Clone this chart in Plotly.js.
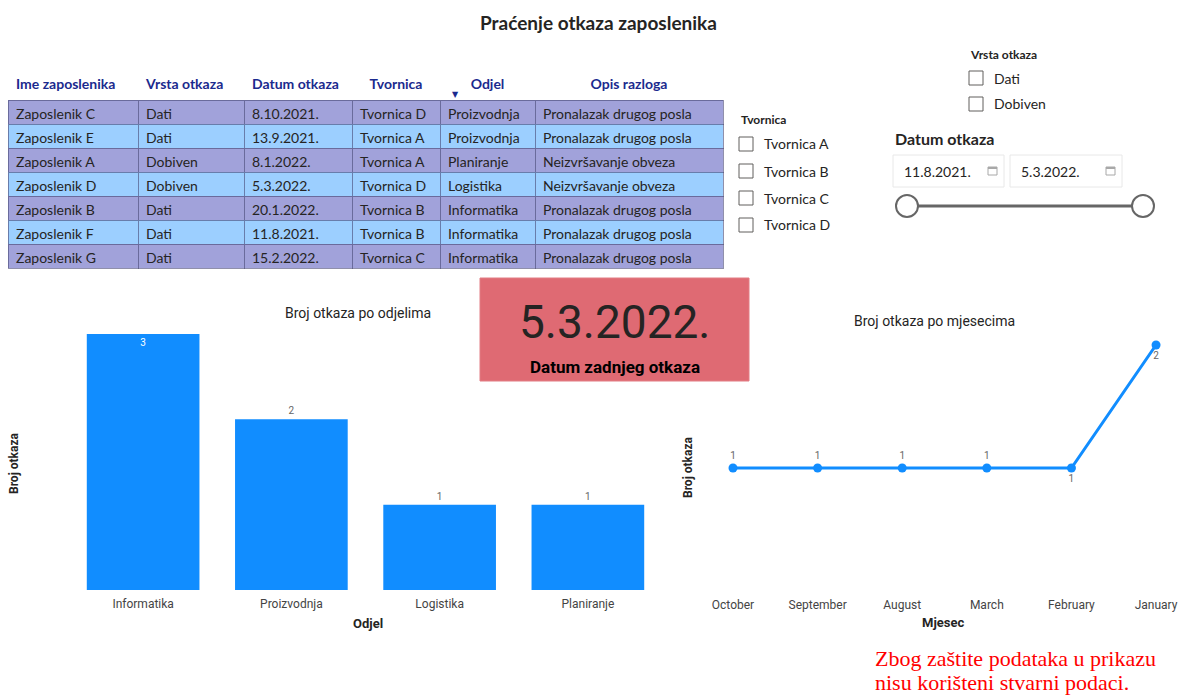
<!DOCTYPE html>
<html>
<head>
<meta charset="utf-8">
<script src="https://cdn.plot.ly/plotly-3.0.1.min.js"></script>
<style>
  html, body { margin: 0; padding: 0; background: #ffffff; }
  #chart { width: 1178px; height: 697px; }
</style>
</head>
<body>
<div id="chart"></div>
<script>
// ---------------- DATA ----------------
const pageTitle = 'Praćenje otkaza zaposlenika';
const tableHeaders = ['Ime zaposlenika', 'Vrsta otkaza', 'Datum otkaza', 'Tvornica', 'Odjel', 'Opis razloga'];
const employees = ['Zaposlenik C', 'Zaposlenik E', 'Zaposlenik A', 'Zaposlenik D', 'Zaposlenik B', 'Zaposlenik F', 'Zaposlenik G'];
const dismissalTypes = ['Dati', 'Dati', 'Dobiven', 'Dobiven', 'Dati', 'Dati', 'Dati'];
const dismissalDates = ['8.10.2021.', '13.9.2021.', '8.1.2022.', '5.3.2022.', '20.1.2022.', '11.8.2021.', '15.2.2022.'];
const factories = ['Tvornica D', 'Tvornica A', 'Tvornica A', 'Tvornica D', 'Tvornica B', 'Tvornica B', 'Tvornica C'];
const departments = ['Proizvodnja', 'Proizvodnja', 'Planiranje', 'Logistika', 'Informatika', 'Informatika', 'Informatika'];
const reasons = ['Pronalazak drugog posla', 'Pronalazak drugog posla', 'Neizvršavanje obveza', 'Neizvršavanje obveza',
                 'Pronalazak drugog posla', 'Pronalazak drugog posla', 'Pronalazak drugog posla'];

const deptNames = ['Informatika', 'Proizvodnja', 'Logistika', 'Planiranje'];
const deptCounts = [3, 2, 1, 1];

const monthNames = ['October', 'September', 'August', 'March', 'February', 'January'];
const monthCounts = [1, 1, 1, 1, 1, 2];

const lastDismissalDate = '5.3.2022.';
const lastDismissalLabel = 'Datum zadnjeg otkaza';

const typeOptions = ['Dati', 'Dobiven'];
const factoryOptions = ['Tvornica A', 'Tvornica B', 'Tvornica C', 'Tvornica D'];
const dateRange = ['11.8.2021.', '5.3.2022.'];

const footnote = ['Zbog zaštite podataka u prikazu', 'nisu korišteni stvarni podaci.'];

// ---------------- HELPERS ----------------
const W = 1178, H = 697;
const px = v => v / W;
const py = v => 1 - v / H;
const BLUE = '#118DFF';
const TXT = '#252423';

// ---------------- TRACES ----------------
const rowColors = employees.map((_, i) => i % 2 === 0 ? '#A1A2DA' : '#9CCFFF');
const tableTrace = {
  type: 'table',
  domain: { x: [px(8), px(723)], y: [py(270), py(70)] },
  columnwidth: [130, 106, 108, 88, 95, 188],
  header: {
    values: tableHeaders,
    align: ['left', 'left', 'left', 'center', 'center', 'center'],
    height: 30,
    fill: { color: '#ffffff' },
    line: { color: '#ffffff', width: 0 },
    font: { family: 'Lato, Noto Sans, sans-serif', size: 14, color: '#1B2A8E', weight: 'bold' }
  },
  cells: {
    values: [employees, dismissalTypes, dismissalDates, factories, departments, reasons],
    align: 'left',
    height: 24,
    fill: { color: tableHeaders.map(() => rowColors) },
    line: { color: 'rgba(70,70,115,0.6)', width: 1 },
    font: { family: 'Lato, Noto Sans, sans-serif', size: 14, color: TXT }
  }
};

const barTrace = {
  type: 'bar',
  x: deptNames,
  y: deptCounts,
  xaxis: 'x',
  yaxis: 'y',
  marker: { color: BLUE },
  text: deptCounts.map(String),
  textposition: deptCounts.map((v, i) => i === 0 ? 'inside' : 'outside'),
  insidetextanchor: 'end',
  insidetextfont: { color: '#ffffff', size: 10, family: 'Roboto' },
  outsidetextfont: { color: '#666666', size: 10, family: 'Roboto' },
  cliponaxis: false,
  hoverinfo: 'x+y'
};

const lineTrace = {
  type: 'scatter',
  mode: 'lines+markers+text',
  x: monthNames,
  y: monthCounts,
  xaxis: 'x2',
  yaxis: 'y2',
  line: { color: BLUE, width: 3 },
  marker: { color: BLUE, size: 9 },
  text: monthCounts.map(String),
  textposition: monthCounts.map((v, i) => i < 4 ? 'top center' : 'bottom center'),
  textfont: { color: '#666666', size: 10, family: 'Roboto' },
  cliponaxis: false,
  hoverinfo: 'x+y'
};

// ---------------- SHAPES & ANNOTATIONS ----------------
const shapes = [];
const annotations = [];

function rectPx(x0, y0, x1, y1, fill, lineColor, lineWidth) {
  shapes.push({ type: 'rect', xref: 'paper', yref: 'paper',
    x0: px(x0), x1: px(x1), y0: py(y1), y1: py(y0),
    fillcolor: fill, line: { color: lineColor, width: lineWidth } });
}
function textPx(x, y, text, font, xanchor, extra) {
  annotations.push(Object.assign({ xref: 'paper', yref: 'paper', x: px(x), y: py(y), text: text,
    showarrow: false, font: font, xanchor: xanchor || 'center', yanchor: 'middle' }, extra || {}));
}

// Page title
textPx(598, 22, '<b>' + pageTitle + '</b>', { family: 'Lato, sans-serif', size: 19, color: TXT });

// Sort indicator in table header
textPx(455, 94, '▼', { family: 'DejaVu Sans', size: 8, color: '#1B2A8E' });

// Slicer: Vrsta otkaza
textPx(968, 55, '<b>Vrsta otkaza</b>', { family: 'Lato, sans-serif', size: 12, color: TXT }, 'left');
typeOptions.forEach((t, i) => {
  const cy = 78 + i * 26;
  rectPx(969, cy - 7, 983, cy + 7, '#ffffff', '#605E5C', 1);
  textPx(992, cy, t, { family: 'Lato, sans-serif', size: 14, color: TXT }, 'left');
});

// Slicer: Tvornica
textPx(739, 120, '<b>Tvornica</b>', { family: 'Lato, sans-serif', size: 12, color: TXT }, 'left');
factoryOptions.forEach((t, i) => {
  const cy = 144 + i * 27;
  rectPx(739, cy - 7, 753, cy + 7, '#ffffff', '#605E5C', 1);
  textPx(762, cy, t, { family: 'Lato, sans-serif', size: 14, color: TXT }, 'left');
});

// Slicer: Datum otkaza
textPx(893, 138, '<b>Datum otkaza</b>', { family: 'Lato, sans-serif', size: 16, color: TXT }, 'left');
const boxX = [[893, 1004], [1010, 1122]];
dateRange.forEach((d, i) => {
  const [bx0, bx1] = boxX[i];
  rectPx(bx0, 155, bx1, 187, '#ffffff', '#E8E8E8', 1);
  textPx(bx0 + 9, 171, d, { family: 'Lato, sans-serif', size: 14, color: TXT }, 'left');
  // calendar icon
  rectPx(bx1 - 16, 167, bx1 - 7, 175, '#ffffff', '#A8A8A8', 1);
  rectPx(bx1 - 16, 167, bx1 - 7, 169, '#A8A8A8', '#A8A8A8', 0);
});
shapes.push({ type: 'line', xref: 'paper', yref: 'paper', x0: px(907), x1: px(1143), y0: py(206), y1: py(206),
  line: { color: '#666666', width: 3 } });
[907, 1143].forEach(cx => {
  shapes.push({ type: 'circle', xref: 'paper', yref: 'paper', x0: px(cx - 11), x1: px(cx + 11), y0: py(217), y1: py(195),
    fillcolor: '#ffffff', line: { color: '#666666', width: 2 } });
});

// KPI card
rectPx(480, 278, 749, 381, '#DF6A73', '#E27C84', 1);
textPx(615, 322, lastDismissalDate, { family: 'Roboto, sans-serif', size: 46, color: TXT });
textPx(615, 367, '<b>' + lastDismissalLabel + '</b>', { family: 'Roboto, sans-serif', size: 17, color: '#000000' });

// Bar chart title and axis titles
textPx(358, 313, 'Broj otkaza po odjelima', { family: 'Roboto, sans-serif', size: 14, color: TXT });
textPx(368, 623, '<b>Odjel</b>', { family: 'Roboto, sans-serif', size: 13, color: TXT });
textPx(14, 463, '<b>Broj otkaza</b>', { family: 'Roboto, sans-serif', size: 12, color: TXT }, 'center', { textangle: -90 });

// Line chart title and axis titles
textPx(934, 321, 'Broj otkaza po mjesecima', { family: 'Roboto, sans-serif', size: 14, color: TXT });
textPx(943, 622, '<b>Mjesec</b>', { family: 'Roboto, sans-serif', size: 13, color: TXT });
textPx(688, 467, '<b>Broj otkaza</b>', { family: 'Roboto, sans-serif', size: 12, color: TXT }, 'center', { textangle: -90 });

// Footnote (two lines)
const footFont = { family: 'Liberation Serif, Times New Roman, serif', size: 22, color: '#FF0000' };
textPx(873, 658, footnote[0], footFont, 'left');
textPx(873, 682, footnote[1], footFont, 'left');

// ---------------- LAYOUT ----------------
const layout = {
  width: W, height: H,
  margin: { l: 0, r: 0, t: 0, b: 0, pad: 0 },
  paper_bgcolor: '#ffffff', plot_bgcolor: 'rgba(0,0,0,0)',
  showlegend: false,
  bargap: 0.24,
  font: { family: 'Roboto, sans-serif', color: TXT },
  xaxis: {
    domain: [px(69), px(662)], type: 'category', showgrid: false, zeroline: false, showline: false,
    ticks: '', ticklabelstandoff: 5,
    tickfont: { family: 'Roboto, sans-serif', size: 12, color: '#444444' }, fixedrange: true, automargin: false
  },
  yaxis: {
    domain: [py(590), py(334)], range: [0, 3], showgrid: false, zeroline: false, showline: false,
    showticklabels: false, ticks: '', fixedrange: true, automargin: false
  },
  xaxis2: {
    domain: [px(700), px(1170)], type: 'category', range: [-0.39, 5.165], anchor: 'y2',
    showgrid: false, zeroline: false, showline: false, ticks: '', ticklabelstandoff: 5,
    tickfont: { family: 'Roboto, sans-serif', size: 12, color: '#444444' }, fixedrange: true, automargin: false
  },
  yaxis2: {
    domain: [py(591), py(345)], range: [0, 2], anchor: 'x2', showgrid: false, zeroline: false, showline: false,
    showticklabels: false, ticks: '', fixedrange: true, automargin: false
  },
  shapes: shapes,
  annotations: annotations
};

Plotly.newPlot('chart', [tableTrace, barTrace, lineTrace], layout, { displayModeBar: false, staticPlot: false });
</script>
</body>
</html>
